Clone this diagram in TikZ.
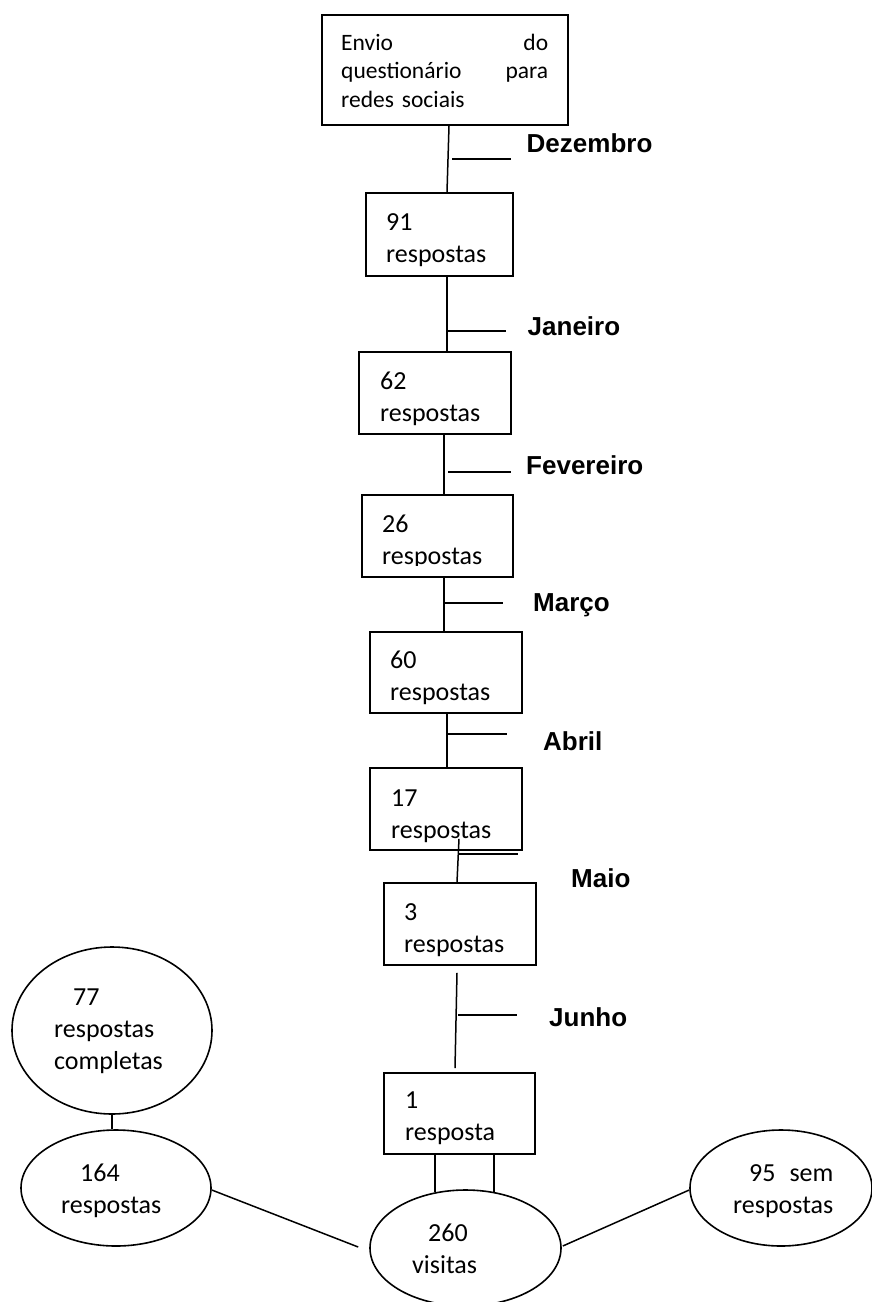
\documentclass[tikz,border=0pt]{standalone}
\usepackage{fontspec}
\setmainfont{Carlito}
\newfontfamily\lblfont{Liberation Sans}
\usetikzlibrary{shapes.geometric}
\hyphenpenalty=10000
\exhyphenpenalty=10000
\newcommand{\firstln}{\rule{0pt}{20pt}}
\begin{document}
\begin{tikzpicture}[x=1pt,y=-1pt,
  conn/.style={line width=1.5pt},
  box/.style={draw,line width=1.7pt,rectangle,inner sep=0pt},
  oval/.style={draw,line width=1.6pt,ellipse,inner sep=0pt},
  txt/.style={anchor=north west,inner sep=0pt,align=left,text width=120pt,font=\fontsize{26}{32}\selectfont},
  lbl/.style={anchor=base west,inner sep=0pt,font=\lblfont\bfseries\fontsize{26}{30}\selectfont}]
\useasboundingbox (0,0) rectangle (872,1302);
% boxes
\node[box,minimum width=246pt,minimum height=110pt] (b1) at (445,70) {};
\node[box,minimum width=147pt,minimum height=83pt] (b2) at (439.5,234.5) {};
\node[box,minimum width=152pt,minimum height=82pt] (b3) at (435,393) {};
\node[box,minimum width=151pt,minimum height=82pt] (b4) at (437.5,536) {};
\node[box,minimum width=152pt,minimum height=81pt] (b5) at (446,672.5) {};
\node[box,minimum width=152pt,minimum height=82pt] (b6) at (446,809) {};
\node[box,minimum width=152pt,minimum height=82pt] (b7) at (460,924) {};
\node[box,minimum width=151pt,minimum height=81pt] (b8) at (459.5,1113.5) {};
% ovals
\node[oval,minimum width=200pt,minimum height=167pt] (e77) at (112,1030.5) {};
\node[oval,minimum width=190pt,minimum height=116pt] (e164) at (116,1188) {};
\node[oval,minimum width=191pt,minimum height=116pt] (e260) at (465.5,1248) {};
\node[oval,minimum width=182pt,minimum height=116pt] (e95) at (781,1188) {};
% texts
\node[txt,text width=207pt,font=\fontsize{23.5}{28.5}\selectfont] (t1) at (341,30)
  {\firstln Envio\hfill do\\questionário\hfill para\\redes sociais};
\node[txt] (t2) at (386,210) {\firstln 91\\respostas};
\node[txt] (t3) at (380,369) {\firstln 62\\respostas};
\begin{scope}
\clip (340,480) rectangle (530,565);
\node[txt] (t4) at (382,512) {\firstln 26\\respostas};
\end{scope}
\node[txt] (t5) at (390,648) {\firstln 60\\respostas};
\node[txt] (t6) at (391,786) {\firstln 17\\respostas};
\node[txt] (t7) at (404,900) {\firstln 3\\respostas};
\node[txt] (t8) at (405,1088) {\firstln 1\\resposta};
\node[txt] (t77) at (54,985) {\firstln\hspace*{19pt}77\\respostas\\completas};
\node[txt] (t164) at (61,1161.7) {\firstln\hspace*{19pt}164\\respostas};
\node[txt] (t260) at (412,1221.7) {\firstln\hspace*{16pt}260\\visitas};
\node[txt] (t95) at (733,1161.7) {\firstln\hspace*{16pt}95\hspace{14pt}sem\\respostas};
% month labels
\node[lbl] (m1) at (526.5,152.7) {Dezembro};
\node[lbl] (m2) at (527.5,335.7) {Janeiro};
\node[lbl] (m3) at (526,474) {Fevereiro};
\node[lbl] (m4) at (533,611.7) {Março};
\node[lbl] (m5) at (543,750) {Abril};
\node[lbl] (m6) at (571,887.7) {Maio};
\node[lbl] (m7) at (549,1026) {Junho};
% connectors
\draw[conn] ([xshift=4pt]b1.south) -- ([xshift=7.5pt]b2.north);
\draw[conn] ([xshift=7.5pt]b2.south) -- ([xshift=12pt]b3.north);
\draw[conn] ([xshift=9pt]b3.south) -- ([xshift=6.5pt]b4.north);
\draw[conn] ([xshift=6.5pt]b4.south) -- ([xshift=-2pt]b5.north);
\draw[conn] ([xshift=1pt]b5.south) -- ([xshift=1pt]b6.north);
\draw[conn] ([xshift=13pt,yshift=12pt]b6.south) -- ([xshift=-3pt]b7.north);
\draw[conn] ([xshift=-3pt,yshift=-7pt]b7.south) -- ([xshift=-4.5pt,yshift=4pt]b8.north);
\draw[conn] ([xshift=-24.5pt]b8.south) -- ([xshift=-30.5pt,yshift=-3pt]e260.north);
\draw[conn] ([xshift=34.5pt]b8.south) -- ([xshift=28.5pt,yshift=-3pt]e260.north);
\draw[conn] (e77.south) -- (e77.south |- e164.north);
\draw[conn] ([yshift=-2pt]e164.east) -- ([xshift=-11pt,yshift=1pt]e260.west);
\draw[conn] ([xshift=1pt,yshift=2pt]e260.east) -- ([yshift=-2pt]e95.west);
% month ticks
\coordinate (k1a) at (452,159); \coordinate (k1b) at (511,159);
\coordinate (k2a) at (447,331); \coordinate (k2b) at (506,331);
\coordinate (k3a) at (448,472); \coordinate (k3b) at (511,472);
\coordinate (k4a) at (444,603); \coordinate (k4b) at (503,603);
\coordinate (k5a) at (448,734); \coordinate (k5b) at (507,734);
\coordinate (k6a) at (459,854); \coordinate (k6b) at (518,854);
\coordinate (k7a) at (458,1015); \coordinate (k7b) at (517,1015);
\draw[conn] (k1a) -- (k1b);
\draw[conn] (k2a) -- (k2b);
\draw[conn] (k3a) -- (k3b);
\draw[conn] (k4a) -- (k4b);
\draw[conn] (k5a) -- (k5b);
\draw[conn] (k6a) -- (k6b);
\draw[conn] (k7a) -- (k7b);
\end{tikzpicture}
\end{document}
